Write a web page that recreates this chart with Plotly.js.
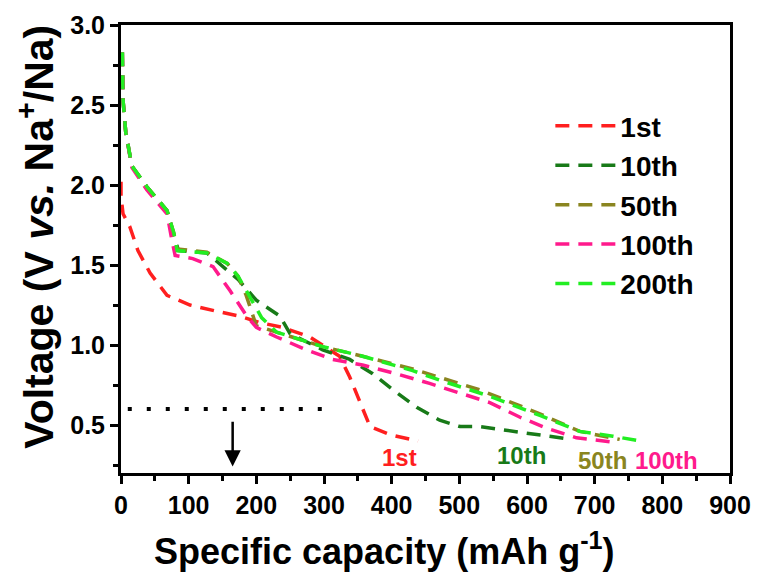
<!DOCTYPE html>
<html>
<head>
<meta charset="utf-8">
<script src="https://cdn.plot.ly/plotly-3.0.1.min.js"></script>
<style>html,body{margin:0;padding:0;background:#fff;}#chart{width:760px;height:578px;}</style>
</head>
<body>
<div id="chart"></div>
<script>
var seriesNames = ['1st', '10th', '50th', '100th', '200th'];
var seriesColors = ['#ff1f1f', '#187a18', '#8a8520', '#ff1a8c', '#22ee22'];

var x1st = [0, 0, 3, 13, 25, 43, 68, 102, 142, 176, 205, 239, 279, 323, 338, 353, 368, 397, 431, 439];
var y1st = [2.02, 1.93, 1.82, 1.74, 1.59, 1.45, 1.31, 1.25, 1.21, 1.18, 1.14, 1.11, 1.05, 0.93, 0.80, 0.64, 0.49, 0.44, 0.41, 0.40];

var x10th = [2, 3, 7, 16, 38, 68, 80, 85, 127, 142, 173, 200, 235, 250, 298, 338, 372, 402, 437, 471, 501, 530, 579, 653, 666];
var y10th = [2.83, 2.53, 2.33, 2.12, 1.99, 1.84, 1.66, 1.59, 1.575, 1.52, 1.41, 1.28, 1.18, 1.07, 0.97, 0.91, 0.82, 0.72, 0.61, 0.53, 0.49, 0.49, 0.46, 0.42, 0.41];

var x50th = [2, 3, 7, 16, 38, 68, 78, 83, 127, 157, 173, 185, 200, 230, 298, 357, 431, 530, 619, 678, 737];
var y50th = [2.83, 2.53, 2.33, 2.12, 1.99, 1.84, 1.70, 1.60, 1.58, 1.51, 1.43, 1.31, 1.12, 1.08, 0.99, 0.93, 0.85, 0.72, 0.57, 0.46, 0.41];

var x100th = [2, 3, 7, 16, 38, 68, 75, 80, 106, 136, 161, 186, 200, 230, 274, 313, 357, 407, 456, 501, 545, 589, 629, 673, 733];
var y100th = [2.83, 2.53, 2.33, 2.11, 1.97, 1.82, 1.66, 1.56, 1.54, 1.49, 1.34, 1.18, 1.11, 1.05, 0.97, 0.91, 0.875, 0.82, 0.76, 0.70, 0.64, 0.55, 0.48, 0.42, 0.39];

var x200th = [2, 3, 7, 16, 38, 68, 78, 83, 127, 157, 173, 188, 208, 230, 298, 357, 431, 471, 545, 619, 678, 727, 767];
var y200th = [2.83, 2.53, 2.33, 2.12, 1.99, 1.84, 1.70, 1.59, 1.575, 1.51, 1.43, 1.32, 1.17, 1.08, 0.99, 0.93, 0.84, 0.78, 0.68, 0.56, 0.46, 0.43, 0.40];

var cutoffX = [10, 300];
var cutoffY = [0.6, 0.6];

var arrowX = 165, arrowFromY = 0.53, arrowToY = 0.24;

var labelX = [412, 592, 712, 806];
var labelY = [0.30, 0.31, 0.28, 0.28];

var xTitle = '<b>Specific capacity (mAh g<sup>-1</sup>)</b>';
var yTitle = '<b>Voltage (V <i>vs.</i> Na<sup>+</sup>/Na)</b>';

var xs = [x1st, x10th, x50th, x100th, x200th];
var ys = [y1st, y10th, y50th, y100th, y200th];

var font = 'Arial, "Liberation Sans", sans-serif';
var narrow = '"Liberation Sans Narrow", "Arial Narrow", Arial, "Liberation Sans", sans-serif';
var traces = [];
for (var i = 0; i < xs.length; i++) {
  traces.push({
    x: xs[i], y: ys[i], type: 'scatter', mode: 'lines', name: seriesNames[i],
    legendgroup: 'g' + i,
    line: {color: seriesColors[i], width: 3.5, dash: '14px,9px'}
  });
}
traces.push({
  x: cutoffX, y: cutoffY, type: 'scatter', mode: 'lines', showlegend: false,
  line: {color: '#000', width: 4, dash: '4px,15px'}
});

var annotations = [];
for (var j = 0; j < labelX.length; j++) {
  annotations.push({
    x: labelX[j], y: labelY[j], xref: 'x', yref: 'y', showarrow: false,
    text: '<b>' + seriesNames[j] + '</b>',
    font: {family: font, size: 24, color: seriesColors[j]}
  });
}
annotations.push({
  x: arrowX, y: arrowToY, ax: arrowX, ay: arrowFromY, xref: 'x', yref: 'y', axref: 'x', ayref: 'y',
  text: '', showarrow: true, arrowhead: 2, arrowsize: 1.3, arrowwidth: 2.5, arrowcolor: '#000'
});
annotations.push({
  x: 0.433, y: -0.17, xref: 'paper', yref: 'paper', xanchor: 'center', yanchor: 'middle',
  showarrow: false, text: xTitle, font: {family: font, size: 36, color: '#000'}
});
annotations.push({
  x: -0.14, y: 0.527, xref: 'paper', yref: 'paper', xanchor: 'center', yanchor: 'middle',
  showarrow: false, textangle: -90, text: yTitle, font: {family: font, size: 41, color: '#000'}
});

var layout = {
  width: 760, height: 578,
  margin: {l: 121, r: 30, t: 25, b: 105},
  paper_bgcolor: '#fff', plot_bgcolor: '#fff',
  font: {family: font, color: '#000'},
  showlegend: true,
  legend: {
    x: 0.705, y: 0.83, xanchor: 'left', yanchor: 'top',
    font: {family: font, size: 28, color: '#000', weight: 'bold'},
    traceorder: 'grouped', tracegroupgap: 0, itemwidth: 60,
    bgcolor: 'rgba(0,0,0,0)'
  },
  xaxis: {
    range: [0, 900], tickmode: 'linear', tick0: 0, dtick: 100,
    ticks: 'outside', ticklen: 8, tickwidth: 3, tickcolor: '#000',
    minor: {dtick: 50, ticks: 'outside', ticklen: 5, tickwidth: 3, tickcolor: '#000'},
    showline: true, linewidth: 3, linecolor: '#000', mirror: true,
    showgrid: false, zeroline: false,
    tickfont: {family: narrow, size: 25, weight: 'bold'}
  },
  yaxis: {
    range: [0.2, 3.0], tickmode: 'linear', tick0: 0, dtick: 0.5, tickformat: '.1f',
    ticks: 'outside', ticklen: 8, tickwidth: 3, tickcolor: '#000',
    minor: {dtick: 0.25, ticks: 'outside', ticklen: 5, tickwidth: 3, tickcolor: '#000'},
    showline: true, linewidth: 3, linecolor: '#000', mirror: true,
    showgrid: false, zeroline: false,
    tickfont: {family: narrow, size: 25, weight: 'bold'}
  },
  annotations: annotations
};

Plotly.newPlot('chart', traces, layout, {displayModeBar: false, staticPlot: true});
</script>
</body>
</html>
